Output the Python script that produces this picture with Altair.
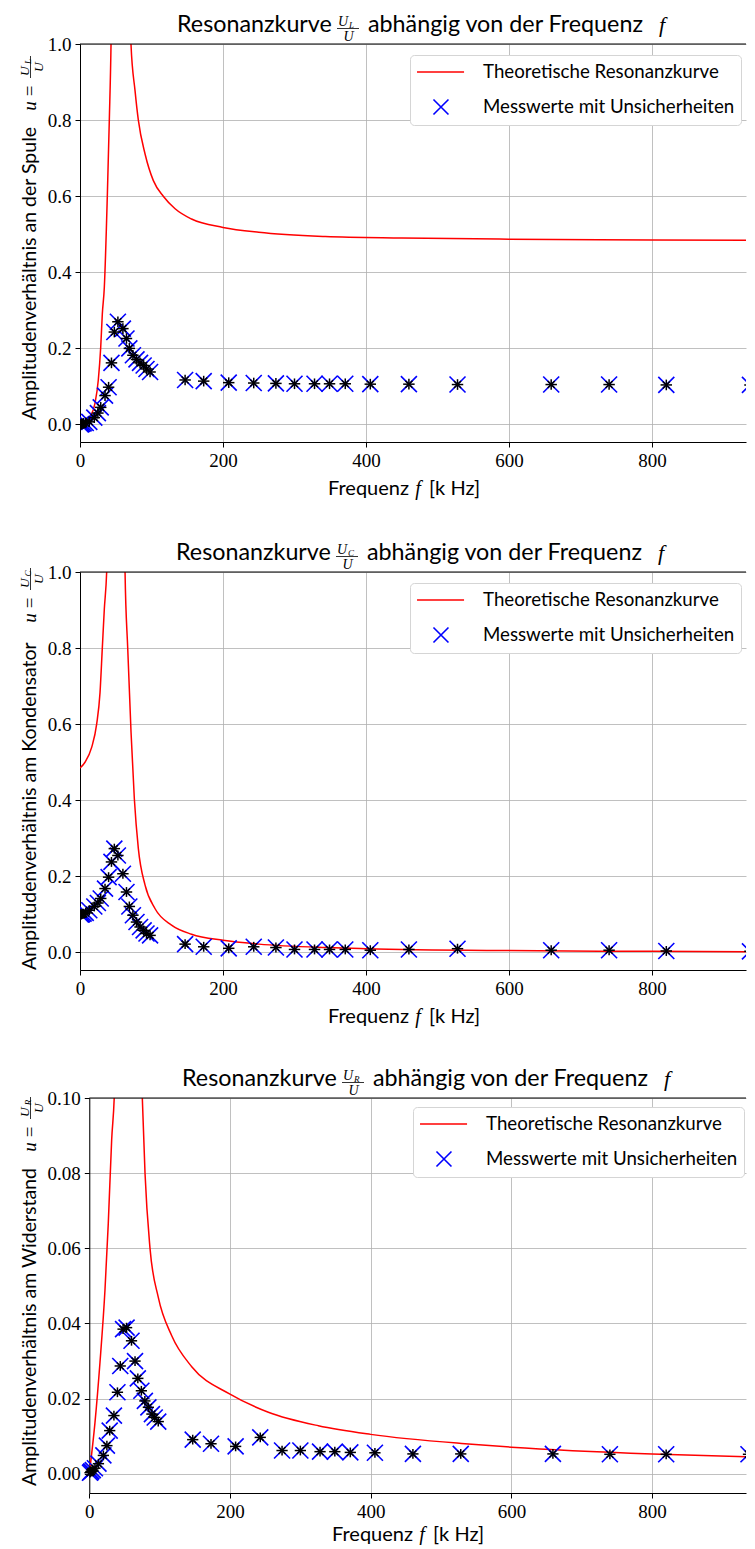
import altair as alt
import pandas as pd

# ---------------- data ----------------
F_MEAS = [1, 2, 3, 5, 8, 13, 20, 25, 29, 35, 40, 44, 48, 53, 60, 65, 69, 74, 79, 84,
          89, 93, 98, 147, 173, 208, 243, 274, 300, 328, 349, 371, 406, 460, 528,
          659, 740, 820, 937]
U_L_MEAS = [0.000, 0.001, 0.002, 0.003, 0.004, 0.007, 0.018, 0.030, 0.045, 0.076,
            0.098, 0.162, 0.243, 0.270, 0.252, 0.226, 0.200, 0.182, 0.171, 0.162,
            0.155, 0.146, 0.138, 0.117, 0.114, 0.110, 0.109, 0.108, 0.107, 0.107,
            0.107, 0.107, 0.106, 0.106, 0.105, 0.105, 0.105, 0.104, 0.104]
U_C_MEAS = [0.100, 0.100, 0.101, 0.102, 0.104, 0.111, 0.121, 0.130, 0.142, 0.168,
            0.198, 0.238, 0.273, 0.255, 0.207, 0.159, 0.121, 0.098, 0.080, 0.067,
            0.058, 0.050, 0.045, 0.022, 0.015, 0.011, 0.015, 0.013, 0.008, 0.008,
            0.008, 0.008, 0.006, 0.008, 0.010, 0.006, 0.006, 0.004, 0.003]
U_R_MEAS = [0.0003, 0.0005, 0.0007, 0.0010, 0.0015, 0.0027, 0.0049, 0.0075, 0.0115,
            0.0155, 0.0217, 0.0287, 0.0385, 0.0389, 0.0354, 0.0300, 0.0254, 0.0221,
            0.0194, 0.0177, 0.0159, 0.0150, 0.0139, 0.0091, 0.0080, 0.0073, 0.0097,
            0.0062, 0.0062, 0.0059, 0.0059, 0.0057, 0.0056, 0.0053, 0.0053, 0.0053,
            0.0052, 0.0052, 0.0052]

F_TH_L = [0, 7, 14, 21, 25.6, 29, 31.2, 34, 38.2, 41, 43.4, 50, 57, 64, 71.3, 77, 81.6,
          91, 102.6, 116.5, 133, 156, 200, 250, 343, 450, 600, 800, 944]
U_TH_L = [0, 0.005, 0.02, 0.056, 0.117, 0.204, 0.29, 0.36, 0.60, 0.80, 1.0, 2.5, 3.0,
          2.0, 1.0, 0.877, 0.80, 0.711, 0.641, 0.60, 0.567, 0.54, 0.518, 0.505, 0.494,
          0.490, 0.487, 0.485, 0.484]

F_TH_C = [0, 7, 16.3, 23.3, 28, 31.2, 34, 37.3, 45, 52, 58, 63, 66.8, 71.4, 76, 81.6,
          91, 105, 128, 156, 200, 250, 343, 400, 600, 800, 944]
U_TH_C = [0.485, 0.50, 0.539, 0.60, 0.683, 0.80, 0.902, 1.0, 1.8, 3.0, 2.0, 1.0, 0.797,
          0.578, 0.404, 0.273, 0.177, 0.115, 0.072, 0.048, 0.032, 0.022, 0.013, 0.010,
          0.005, 0.003, 0.002]

F_TH_R = [0, 8.1, 15.2, 22.3, 27, 31.8, 35.5, 45, 55, 65, 75.3, 79.2, 86.3, 98, 117,
          145.6, 200, 254.5, 325.6, 400, 534, 600, 800, 946]
U_TH_R = [0, 0.0137, 0.0297, 0.049, 0.0667, 0.0889, 0.1004, 0.2, 0.3, 0.2, 0.1003,
          0.08, 0.06, 0.0470, 0.0368, 0.0285, 0.0212, 0.0164, 0.0128, 0.0105, 0.0080,
          0.0071, 0.0053, 0.0045]

F_ERR = 8.0
U_ERR_L = 0.014
U_ERR_C = 0.013
U_ERR_R = 0.0013

X_TICKS = [0, 200, 400, 600, 800]
Y_TICKS_LC = [0.0, 0.2, 0.4, 0.6, 0.8, 1.0]
Y_TICKS_R = [0.0, 0.02, 0.04, 0.06, 0.08, 0.10]

THEO = "Theoretische Resonanzkurve"
MESS = "Messwerte mit Unsicherheiten"

SANS = "Lato"
SERIF = "Liberation Serif"
X_PATH = "M-1,-1L1,1M-1,1L1,-1"
LEG_LINE = "M-1.05,0L3.9,0"
LEG_X = "M0.68,-0.79L2.26,0.79M0.68,0.79L2.26,-0.79"

ONE = pd.DataFrame({"k": [0]})
W = 666          # plot width (all panels share the same left edge)
L_EXT = 70       # reserved room left of the plot
PAD_LEFT = 2


def txt(text, x, y, size, font, style="normal", align="left", baseline="alphabetic", angle=0):
    return alt.Chart(ONE).mark_text(
        text=text, font=font, fontSize=size, fontStyle=style, align=align,
        baseline=baseline, angle=angle, color="black"
    ).encode(x=alt.value(x), y=alt.value(y))


def hrule(x1, x2, y, w=0.8, op=1):
    return alt.Chart(ONE).mark_rule(color="black", strokeWidth=w, opacity=op).encode(
        x=alt.value(x1), x2=alt.value(x2), y=alt.value(y))


def vrule(x, y1, y2, w=0.8, op=1):
    return alt.Chart(ONE).mark_rule(color="black", strokeWidth=w, opacity=op).encode(
        x=alt.value(x), y=alt.value(y1), y2=alt.value(y2))


def decorations(origin, height, x0, sub, t_start, t_base, ylabel, ystart, y_end,
                xt_base, xt_f, t_ext, b_ext):
    ox, oy = origin
    X = lambda v: v - ox
    Y = lambda v: v - oy
    s = t_start
    y_u, y_eq, y_frac = y_end - 10, y_end - 25, y_end - 49
    return [
        # invisible frame fixing the panel's extents
        vrule(-L_EXT, -t_ext, height + b_ext, w=0.001, op=0),
        # top spine
        hrule(x0, W, 0, w=1),
        # title
        txt("Resonanzkurve", X(s), Y(t_base), 23.3, SANS),
        txt("U", X(s + 161), Y(t_base - 6), 14, SERIF, "italic"),
        txt(sub, X(s + 172), Y(t_base - 4.5), 9, SERIF, "italic"),
        hrule(X(s + 160), X(s + 182), Y(t_base - 3.5)),
        txt("U", X(s + 171.5), Y(t_base + 8.5), 14, SERIF, "italic", align="center"),
        txt("abhängig von der Frequenz", X(s + 191), Y(t_base), 23.3, SANS),
        txt("f", X(s + 482), Y(t_base), 22, SERIF, "italic"),
        # y title (rotated)
        txt(ylabel, X(30), Y(ystart), 19.5, SANS, angle=270, baseline="middle"),
        txt("u", X(30), Y(y_u), 19, SERIF, "italic", align="center", baseline="middle", angle=270),
        txt("=", X(30), Y(y_eq), 19, SERIF, align="center", baseline="middle", angle=270),
        vrule(X(30.5), Y(y_frac - 11), Y(y_frac + 11)),
        txt("U", X(28.5), Y(y_frac + 4), 13.5, SERIF, "italic", align="center", angle=270),
        txt(sub, X(31), Y(y_frac - 5.5), 9, SERIF, "italic", align="center", angle=270),
        txt("U", X(42.5), Y(y_frac), 13.5, SERIF, "italic", align="center", angle=270),
        # x title
        txt("Frequenz", X(xt_f - 9), Y(xt_base), 20, SANS, align="right"),
        txt("f", X(xt_f), Y(xt_base), 20, SERIF, "italic", align="center"),
        txt("[k Hz]", X(xt_f + 11), Y(xt_base), 20, SANS),
    ]


def panel(f_th, u_th, u_meas, u_err, ydom, yticks, yfmt, x0, pxunit, height, legxy, deco):
    xs = alt.Scale(domain=[0, (W - x0) / pxunit], range=[x0, W], nice=False, zero=False)
    ys = alt.Scale(domain=ydom, nice=False, zero=False)
    common = dict(grid=True, labelFlush=False, labelFont=SERIF, labelFontSize=19,
                  labelColor="black", labelPadding=4, tickSize=5, tickColor="black",
                  domainColor="black", gridColor="#b0b0b0", gridWidth=0.8, title=None)
    xax = alt.Axis(values=X_TICKS, format="d", **common)
    if x0:
        yax = alt.Axis(values=yticks, format=yfmt, offset=-x0, **common)
    else:
        yax = alt.Axis(values=yticks, format=yfmt, **common)
    th = pd.DataFrame({"f": f_th, "u": u_th})
    ms = pd.DataFrame({"f": F_MEAS, "u": u_meas})
    ms["flo"] = ms["f"] - F_ERR
    ms["fhi"] = ms["f"] + F_ERR
    ms["ulo"] = ms["u"] - u_err
    ms["uhi"] = ms["u"] + u_err

    def ex(field):
        return alt.X(field, type="quantitative", scale=xs, axis=xax)

    def ey(field):
        return alt.Y(field, type="quantitative", scale=ys, axis=yax)

    curve = alt.Chart(th).mark_line(color="red", strokeWidth=1.5, clip=True,
                                    interpolate="monotone").encode(x=ex("f"), y=ey("u"))
    crosses = alt.Chart(ms).mark_point(shape=X_PATH, size=256, color="blue", strokeWidth=1.6,
                                       filled=False, opacity=1, clip=True).encode(x=ex("f"), y=ey("u"))
    xerr = alt.Chart(ms).mark_rule(color="black", strokeWidth=1.5, clip=True).encode(
        x=ex("flo"), x2="fhi", y=ey("u"))
    yerr = alt.Chart(ms).mark_rule(color="black", strokeWidth=1.5, clip=True).encode(
        x=ex("f"), y=ey("ulo"), y2="uhi")
    centre = alt.Chart(ms).mark_point(shape=X_PATH, size=49, color="black", strokeWidth=1.5,
                                      filled=False, opacity=1, clip=True).encode(x=ex("f"), y=ey("u"))
    leg = alt.Legend(title=None, orient="none", legendX=legxy[0], legendY=legxy[1],
                     direction="vertical", labelFont=SANS, labelFontSize=18.7, labelLimit=500,
                     labelColor="black", symbolStrokeWidth=1.6, symbolSize=361,
                     symbolOpacity=1, padding=6.5, rowPadding=13, labelOffset=45.5,
                     fillColor="white", strokeColor="#d5d5d5", cornerRadius=4)
    legdf = pd.DataFrame({"series": [THEO, MESS]})
    legend_layer = alt.Chart(legdf).mark_point(filled=False, opacity=0).encode(
        shape=alt.Shape("series:N", scale=alt.Scale(domain=[THEO, MESS], range=[LEG_LINE, LEG_X]),
                        legend=leg),
        color=alt.Color("series:N", scale=alt.Scale(domain=[THEO, MESS], range=["red", "blue"]),
                        legend=leg),
    )
    return alt.layer(curve, crosses, xerr, yerr, centre, legend_layer, *deco).properties(
        width=W, height=height)


p1 = panel(F_TH_L, U_TH_L, U_L_MEAS, U_ERR_L, [-0.046, 1.0], Y_TICKS_LC, ".1f", 0, 0.715, 398,
           (330, 11),
           decorations((80, 44), 398, 0, "L", 177, 32, "Amplitudenverhältnis an der Spule", 420,
                       116, 495, 418, 36, 62))
p2 = panel(F_TH_C, U_TH_C, U_C_MEAS, U_ERR_C, [-0.046, 1.0], Y_TICKS_LC, ".1f", 0, 0.715, 398,
           (330, 11),
           decorations((80, 572), 398, 0, "C", 176, 560, "Amplitudenverhältnis am Kondensator", 970,
                       628, 1023, 418, 36, 62))
p3 = panel(F_TH_R, U_TH_R, U_R_MEAS, U_ERR_R, [-0.0051, 0.10], Y_TICKS_R, ".2f", 9.3, 0.7035, 395,
           (333, 9),
           decorations((80, 1098), 395, 9.3, "R", 182, 1086, "Amplitudenverhältnis am Widerstand", 1486,
                       1157, 1541, 422, 34, 52))

chart = alt.concat(p1, p2, p3, columns=1, spacing=32).resolve_scale(
    color="independent", shape="independent"
).resolve_legend(
    color="independent", shape="independent"
).properties(
    padding={"left": PAD_LEFT, "top": 0, "right": 0, "bottom": 0},
    background="white",
).configure_view(strokeWidth=0)

chart.save("out.html", embed_options={"renderer": "svg", "actions": False})
